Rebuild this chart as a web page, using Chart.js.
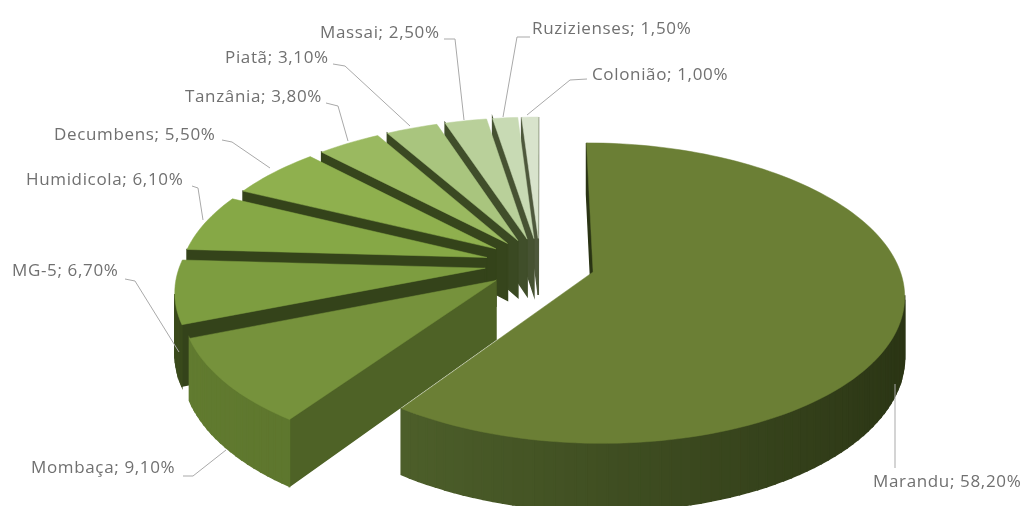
<!DOCTYPE html>
<html>
<head>
<meta charset="utf-8">
<title>Cultivares</title>
<style>
    html, body { margin: 0; padding: 0; background: #fff; }
    canvas { display: block; }
</style>
<script src="https://cdn.jsdelivr.net/npm/chart.js@4/dist/chart.umd.min.js"></script>
</head>
<body>
<canvas id="pie" width="1026" height="506"></canvas>
<script>
var categories = ["Marandu", "Mombaça", "MG-5", "Humidicola", "Decumbens", "Tanzânia", "Piatã", "Massai", "Ruzizienses", "Colonião"];
var shares = [58.2, 9.1, 6.7, 6.1, 5.5, 3.8, 3.1, 2.5, 1.5, 1.0];

var topColors = ["#6b7f35", "#76923c", "#7d9d40", "#86a846", "#8fb04e", "#9ab960", "#a9c57e", "#b9d09a", "#c8dab4", "#d8e3cc"];
var wallLit = ["#566a30", "#627c30", "#3a4a1c", "#3a4a1c", "#3a4a1c", "#3c4c20", "#404f26", "#46542e", "#4c5836", "#555f42"];
var wallDark = ["#2a3414", "#4e6226", "#34431a", "#34431a", "#34431a", "#36451c", "#3a4922", "#404e2a", "#465232", "#4e583c"];

// label placement: text start, text centre line, then the leader polyline
var labelSpots = [
    { x: 873, y: 482, line: [[895, 384], [895, 468]] },
    { x: 31, y: 468, line: [[183, 476], [193, 476], [226, 450]] },
    { x: 12, y: 271, line: [[125, 279], [135, 281], [179, 352]] },
    { x: 26, y: 180, line: [[192, 186], [198, 188], [203, 220]] },
    { x: 54, y: 135, line: [[222, 140], [232, 142], [270, 168]] },
    { x: 185, y: 97, line: [[326, 103], [338, 106], [348, 141]] },
    { x: 225, y: 58, line: [[333, 64], [345, 66], [358, 78], [410, 126]] },
    { x: 320, y: 33, line: [[444, 39], [455, 39], [464, 120]] },
    { x: 532, y: 29, line: [[530, 37], [517, 37], [503, 117]] },
    { x: 592, y: 75, line: [[587, 79], [570, 80], [527, 115]] }
];

// perspective of the tilted pie, in canvas pixels
var CENTER_X = 540, CENTER_Y = 264;
var SPREAD_X = 305, SPREAD_Y = 145, TILT = 0.14, THICKNESS = 58;

function project(u, v, z) {
    var w = 1 - TILT * v;
    return [CENTER_X + SPREAD_X * u / w, CENTER_Y + (SPREAD_Y * v + z) / w];
}

function hexToRgb(hex) {
    return [1, 3, 5].map(function(i) { return parseInt(hex.substr(i, 2), 16); });
}

function mixColor(a, b, t) {
    var ca = hexToRgb(a), cb = hexToRgb(b);
    return "rgb(" + ca.map(function(c, i) { return Math.round(c + (cb[i] - c) * t); }).join(",") + ")";
}

// outline of a slice in pie units, taken from the arc element of the chart
function sliceOutline(arc) {
    var r = arc.outerRadius;
    var mid = (arc.startAngle + arc.endAngle) / 2;
    var ox = Math.cos(mid) * arc.options.offset / r;
    var oy = Math.sin(mid) * arc.options.offset / r;
    var steps = Math.max(4, Math.ceil((arc.endAngle - arc.startAngle) / 0.03));
    var pts = [[ox, oy]];
    for (var i = 0; i <= steps; i++) {
        var a = arc.startAngle + (arc.endAngle - arc.startAngle) * i / steps;
        pts.push([ox + Math.cos(a), oy + Math.sin(a)]);
    }
    return pts;
}

function fillPolygon(ctx, pts, color, edge) {
    ctx.beginPath();
    pts.forEach(function(p, i) {
        if (i === 0) ctx.moveTo(p[0], p[1]); else ctx.lineTo(p[0], p[1]);
    });
    ctx.closePath();
    ctx.fillStyle = color;
    ctx.strokeStyle = color;
    ctx.lineWidth = edge;
    ctx.fill();
    ctx.stroke();
}

function drawSlice(ctx, arc, index) {
    var outline = sliceOutline(arc);
    // side walls: only edges running right to left on screen face the viewer
    outline.forEach(function(p, i) {
        var q = outline[(i + 1) % outline.length];
        var a = project(p[0], p[1], 0), b = project(q[0], q[1], 0);
        if (b[0] >= a[0]) return;
        var du = q[0] - p[0], dv = q[1] - p[1];
        var nx = dv / Math.sqrt(du * du + dv * dv);
        // the first radial edge always sits in shade
        var light = i === 0 ? 0 : (1 - nx) / 2;
        var color = mixColor(wallDark[index], wallLit[index], light);
        fillPolygon(ctx, [a, b, project(q[0], q[1], THICKNESS), project(p[0], p[1], THICKNESS)], color, 1.5);
    });
    fillPolygon(ctx, outline.map(function(p) { return project(p[0], p[1], 0); }), arc.options.backgroundColor, 0.5);
}

var tiltedPie = {
    id: "tiltedPie",
    beforeDatasetsDraw: function(chart) {
        var arcs = chart.getDatasetMeta(0).data;
        // back slices first, the big front one last
        for (var i = arcs.length - 1; i >= 0; i--) {
            drawSlice(chart.ctx, arcs[i], i);
        }
        return false;
    },
    afterDraw: function(chart) {
        var ctx = chart.ctx;
        ctx.save();
        ctx.lineWidth = 1;
        ctx.strokeStyle = "#a9a9a9";
        labelSpots.forEach(function(spot) {
            ctx.beginPath();
            spot.line.forEach(function(p, i) {
                if (i === 0) ctx.moveTo(p[0], p[1]); else ctx.lineTo(p[0], p[1]);
            });
            ctx.stroke();
        });
        ctx.font = "17px 'Open Sans'";
        ctx.letterSpacing = "0.65px";
        ctx.fillStyle = "#707070";
        ctx.textBaseline = "middle";
        categories.forEach(function(name, i) {
            var text = name + "; " + shares[i].toFixed(2).replace(".", ",") + "%";
            ctx.fillText(text, labelSpots[i].x, labelSpots[i].y);
        });
        ctx.restore();
    }
};

new Chart(document.getElementById("pie"), {
    type: "pie",
    plugins: [tiltedPie],
    data: {
        labels: categories,
        datasets: [{
            data: shares,
            backgroundColor: topColors,
            borderWidth: 0,
            offset: 42
        }]
    },
    options: {
        responsive: false,
        animation: false,
        plugins: {
            legend: { display: false },
            tooltip: { enabled: false }
        }
    }
});
</script>
</body>
</html>
